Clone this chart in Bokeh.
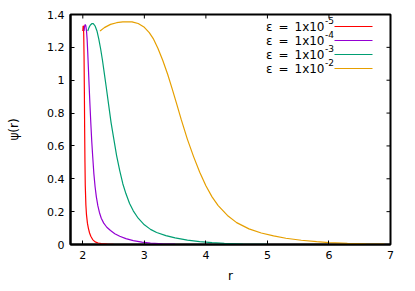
from bokeh.plotting import figure
from bokeh.models import FixedTicker, Range1d
from bokeh.core.properties import value
from bokeh.embed import file_html
from bokeh.resources import INLINE

# ---- data ----
r_e5 = [2.000, 2.005, 2.010, 2.015, 2.020, 2.025, 2.030, 2.035, 2.040, 2.050, 2.060, 2.075,
        2.090, 2.110, 2.130, 2.160, 2.200, 2.250, 2.300, 2.400, 2.500, 2.700, 3.000]
psi_e5 = [1.30, 1.33, 1.33, 1.28, 1.15, 0.95, 0.70, 0.50, 0.36, 0.24, 0.18, 0.13,
          0.10, 0.07, 0.05, 0.03, 0.016, 0.009, 0.005, 0.002, 0.001, 0.0, 0.0]

r_e4 = [2.020, 2.030, 2.040, 2.050, 2.060, 2.070, 2.080, 2.090, 2.100, 2.115, 2.130, 2.145,
        2.160, 2.180, 2.200, 2.220, 2.245, 2.270, 2.300, 2.340, 2.390, 2.450, 2.520, 2.600,
        2.700, 2.820, 2.960, 3.100, 3.300, 3.500]
psi_e4 = [1.30, 1.33, 1.34, 1.33, 1.30, 1.25, 1.17, 1.08, 0.99, 0.86, 0.74, 0.63,
          0.54, 0.43, 0.35, 0.29, 0.235, 0.195, 0.16, 0.13, 0.105, 0.085, 0.066, 0.050,
          0.036, 0.024, 0.014, 0.008, 0.004, 0.002]

r_e3 = [2.080, 2.100, 2.120, 2.150, 2.170, 2.200, 2.230, 2.260, 2.290, 2.320, 2.350, 2.380,
        2.420, 2.460, 2.500, 2.550, 2.600, 2.650, 2.700, 2.760, 2.820, 2.900, 3.000, 3.100,
        3.200, 3.350, 3.500, 3.700, 3.900, 4.100, 4.300, 4.600, 5.000]
psi_e3 = [1.30, 1.32, 1.335, 1.345, 1.345, 1.33, 1.30, 1.25, 1.19, 1.12, 1.04, 0.96,
          0.85, 0.74, 0.65, 0.54, 0.45, 0.37, 0.31, 0.25, 0.205, 0.16, 0.12, 0.092,
          0.073, 0.054, 0.040, 0.027, 0.018, 0.011, 0.007, 0.003, 0.001]

r_e2 = [2.28, 2.35, 2.45, 2.55, 2.65, 2.72, 2.80, 2.90, 3.00, 3.08, 3.15, 3.22, 3.30, 3.38,
        3.45, 3.53, 3.60, 3.70, 3.80, 3.90, 4.00, 4.10, 4.20, 4.35, 4.50, 4.70, 4.90, 5.10,
        5.30, 5.55, 5.80, 6.00, 6.30, 6.60, 6.90]
psi_e2 = [1.30, 1.32, 1.34, 1.35, 1.355, 1.356, 1.355, 1.345, 1.322, 1.29, 1.25, 1.195, 1.12, 1.035,
          0.95, 0.85, 0.76, 0.64, 0.535, 0.44, 0.358, 0.29, 0.237, 0.177, 0.133, 0.095, 0.07, 0.052,
          0.038, 0.026, 0.017, 0.012, 0.007, 0.004, 0.002]

series_exp = ["-5", "-4", "-3", "-2"]
series_colors = ["#ff0000", "#9400d3", "#009e73", "#e69f00"]
x_ticks = [2, 3, 4, 5, 6, 7]
y_ticks = [0, 0.2, 0.4, 0.6, 0.8, 1, 1.2, 1.4]
y_tick_labels = ["0", "0.2", "0.4", "0.6", "0.8", "1", "1.2", "1.4"]

# ---- layout ----
X0, X1 = 1.8, 7.0
Y0, Y1 = 0.0, 1.4
W, H = 415, 291
BL, BR, BT, BB = 70, 25, 14, 47
FW = W - BL - BR
FH = H - BT - BB
FONT = "DejaVu Sans"
TICK = 4


def fx(px):
    return X0 + px / FW * (X1 - X0)


def fy(py):
    return Y1 - py / FH * (Y1 - Y0)


p = figure(width=W, height=H, x_range=Range1d(X0, X1), y_range=Range1d(Y0, Y1),
           output_backend="svg", toolbar_location=None,
           min_border_left=BL, min_border_right=BR, min_border_top=BT, min_border_bottom=BB,
           x_axis_label="r", y_axis_label="ψ(r)")
p.grid.visible = False
p.outline_line_color = "black"
p.outline_line_width = 2
p.background_fill_color = "white"
p.border_fill_color = "white"

p.xaxis.ticker = FixedTicker(ticks=x_ticks)
p.yaxis.ticker = FixedTicker(ticks=y_ticks)
p.yaxis.major_label_overrides = {t: l for t, l in zip(y_ticks, y_tick_labels)}

for ax in (p.xaxis[0], p.yaxis[0]):
    ax.major_tick_in = TICK
    ax.major_tick_out = 0
    ax.minor_tick_line_color = None
    ax.axis_line_width = 2
    ax.major_tick_line_width = 1
    ax.major_label_text_font = FONT
    ax.major_label_text_font_size = "11px"
    ax.major_label_text_color = "black"
    ax.axis_label_text_font = FONT
    ax.axis_label_text_font_size = "12px"
    ax.axis_label_text_font_style = "normal"
    ax.axis_label_text_color = "black"
p.yaxis.major_label_standoff = 6
p.yaxis.axis_label_standoff = 23
p.xaxis.major_label_standoff = 6
p.xaxis.axis_label_standoff = 7

# mirrored inward ticks on top and right edges
p.segment(x0=x_ticks, x1=x_ticks, y0=[Y1] * len(x_ticks), y1=[fy(TICK)] * len(x_ticks),
          line_color="black", line_width=1)
p.segment(x0=[X1] * len(y_ticks), x1=[fx(FW - TICK)] * len(y_ticks), y0=y_ticks, y1=y_ticks,
          line_color="black", line_width=1)

all_r = [r_e5, r_e4, r_e3, r_e2]
all_psi = [psi_e5, psi_e4, psi_e3, psi_e2]
for rr, ps, c in zip(all_r, all_psi, series_colors):
    p.line(rr, ps, line_color=c, line_width=1.2)

# ---- key (gnuplot style: text then sample line) ----
row_py = [12, 26, 40, 54]
text_right_px = 254
line_px0, line_px1 = 264, 302
p.text(x=[fx(text_right_px)] * 4, y=[fy(v) for v in row_py], text=["ε\u2002=\u20021x10"] * 4,
       text_align="right", text_baseline="middle", text_font=value(FONT),
       text_font_size="12px", text_color="black")
p.text(x=[fx(text_right_px + 0.5)] * 4, y=[fy(v - 6) for v in row_py], text=series_exp,
       text_align="left", text_baseline="middle", text_font=value(FONT),
       text_font_size="9px", text_color="black")
p.segment(x0=[fx(line_px0)] * 4, x1=[fx(line_px1)] * 4,
          y0=[fy(v) for v in row_py], y1=[fy(v) for v in row_py],
          line_color=series_colors, line_width=1.2)

open("out.html", "w").write(file_html(p, INLINE))
